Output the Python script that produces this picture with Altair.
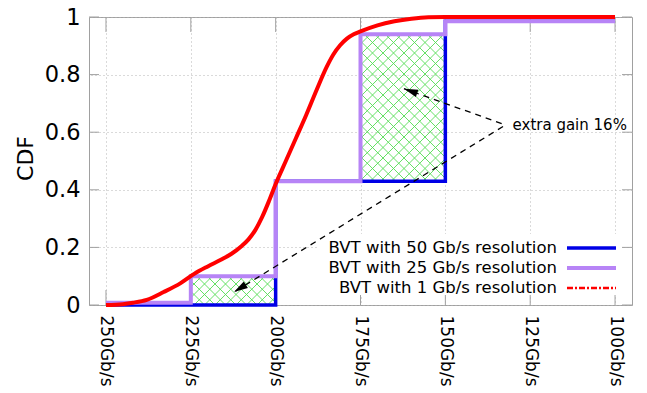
import math
import altair as alt
import pandas as pd

# ---------------- data ----------------
x_ticks = [250, 225, 200, 175, 150, 125, 100]
y_ticks = [0, 0.2, 0.4, 0.6, 0.8, 1.0]

series_names = ["BVT with 50 Gb/s resolution",
                "BVT with 25 Gb/s resolution",
                "BVT with 1 Gb/s resolution"]
series_colors = ["#0000e6", "#b784f6", "#ff0000"]

bvt50_edges = [250, 200, 150, 100]
bvt50_levels = [0.0, 0.43, 0.985]

bvt25_edges = [250, 225, 200, 175, 150, 100]
bvt25_levels = [0.008, 0.10, 0.43, 0.94, 0.985]

bvt1_rate = [250, 245, 242, 238, 233, 228, 224, 220, 216, 213, 210, 208, 206,
             204, 202, 200, 197, 194, 191, 188, 185, 183, 181, 179, 177, 175,
             170, 165, 160, 155, 150, 125, 100]
bvt1_cdf = [0.0, 0.003, 0.008, 0.018, 0.045, 0.076, 0.108, 0.134, 0.158, 0.178,
            0.205, 0.228, 0.26, 0.305, 0.36, 0.42, 0.50, 0.58, 0.66, 0.745,
            0.826, 0.87, 0.902, 0.925, 0.94, 0.95, 0.971, 0.985, 0.994, 0.999,
            1.0, 1.0, 1.0]

gain_x1 = [225, 175]
gain_x2 = [200, 150]
gain_y1 = [0.0, 0.43]
gain_y2 = [0.10, 0.94]

annot_text = ["extra gain 16%"]
annot_x = [130.2]
annot_y = [0.626]
arrow_start_x = [133.4, 133.0]
arrow_start_y = [0.630, 0.620]
arrow_tip_x = [162.2, 212.3]
arrow_tip_y = [0.751, 0.045]

# ---------------- layout ----------------
W, H = 543, 288
X_LEFT, X_RIGHT = 255, 95
SX = W / (X_LEFT - X_RIGHT)   # px per Gb/s
FONT = "DejaVu Sans"

xs = alt.Scale(domain=[X_RIGHT, X_LEFT], reverse=True, nice=False, zero=False)
ys = alt.Scale(domain=[0, 1], nice=False, zero=False)

x_axis = alt.Axis(values=x_ticks, labelExpr="datum.value + 'Gb/s'", labelAngle=90,
                  labelAlign="left", labelBaseline="middle", labelFontSize=17,
                  labelPadding=10, ticks=False, domain=False, grid=True,
                  gridDash=[1, 3], gridColor="#b4b4b4", gridWidth=1,
                  labelFlush=False, labelOverlap=False, labelColor="#000000",
                  labelFont=FONT, title="")
y_axis = alt.Axis(values=y_ticks, format="~g", labelFontSize=22.5, labelPadding=9,
                  ticks=False, domain=False, grid=True, gridDash=[1, 3],
                  gridColor="#b4b4b4", gridWidth=1, labelFlush=False,
                  labelOverlap=False, labelColor="#000000", labelFont=FONT,
                  title="CDF", titleFont=FONT, titleFontSize=22,
                  titleFontWeight="normal", titleColor="#000000",
                  titleX=-64, titleY=141, titleAngle=270, titleAlign="center",
                  titleBaseline="middle")


def X(field="x"):
    return alt.X(field + ":Q", scale=xs, axis=x_axis)


def Y(field="y"):
    return alt.Y(field + ":Q", scale=ys, axis=y_axis)


def step_vertices(edges, levels):
    pts = []
    for i, lv in enumerate(levels):
        pts.append((edges[i], lv))
        pts.append((edges[i + 1], lv))
    return pd.DataFrame({"x": [p[0] for p in pts], "y": [p[1] for p in pts],
                         "o": list(range(len(pts)))})


blue_df = step_vertices(bvt50_edges, bvt50_levels)
purple_df = step_vertices(bvt25_edges, bvt25_levels)
red_df = pd.DataFrame({"x": bvt1_rate, "y": bvt1_cdf})

# hatch segments (45 degree in pixel space), derived from gain regions
D = 10.5
segs = []
for xa_d, xb_d, ya_d, yb_d in zip(gain_x1, gain_x2, gain_y1, gain_y2):
    ua, ub = (X_LEFT - xa_d) * SX, (X_LEFT - xb_d) * SX
    va, vb = ya_d * H, yb_d * H
    k0 = math.floor((ua - vb) / D)
    k1 = math.ceil((ub - va) / D)
    for k in range(k0, k1 + 1):
        c = k * D
        lo, hi = max(ua, va + c), min(ub, vb + c)
        if hi - lo > 0.3:
            segs.append((lo, lo - c, hi, hi - c))
    k0 = math.floor((ua + va) / D)
    k1 = math.ceil((ub + vb) / D)
    for k in range(k0, k1 + 1):
        c = k * D
        lo, hi = max(ua, c - vb), min(ub, c - va)
        if hi - lo > 0.3:
            segs.append((lo, c - lo, hi, c - hi))
hatch_df = pd.DataFrame({
    "x": [X_LEFT - s[0] / SX for s in segs],
    "y": [s[1] / H for s in segs],
    "x2": [X_LEFT - s[2] / SX for s in segs],
    "y2": [s[3] / H for s in segs],
})

# inward tick marks
TX = 15.0 / H
TY = 10.0 / SX
tick_rows = []
for t in x_ticks:
    tick_rows.append((t, t, 0.0, TX))
    tick_rows.append((t, t, 1.0, 1.0 - TX))
for t in y_ticks:
    tick_rows.append((X_LEFT, X_LEFT - TY, t, t))
    tick_rows.append((X_RIGHT, X_RIGHT + TY, t, t))
ticks_df = pd.DataFrame(tick_rows, columns=["x", "x2", "y", "y2"])

# arrows
arrow_df = pd.DataFrame({"x": arrow_start_x, "y": arrow_start_y,
                         "x2": arrow_tip_x, "y2": arrow_tip_y})
angles = []
for sx_, sy_, tx_, ty_ in zip(arrow_start_x, arrow_start_y, arrow_tip_x, arrow_tip_y):
    du = (X_LEFT - tx_) * SX - (X_LEFT - sx_) * SX
    dv = (1 - ty_) * H - (1 - sy_) * H
    angles.append(math.degrees(math.atan2(du, -dv)) % 360)
head_df = pd.DataFrame({"x": arrow_tip_x, "y": arrow_tip_y, "a": angles})

text_df = pd.DataFrame({"x": annot_x, "y": annot_y, "t": annot_text})
legend_df = pd.DataFrame({"label": series_names, "color": series_colors,
                          "row": [0, 1, 2]})

# ---------------- layers ----------------
ticks_layer = alt.Chart(ticks_df).mark_rule(color="#a0a0a0", strokeWidth=1, clip=False).encode(
    x=X(), x2="x2:Q", y=Y(), y2="y2:Q")

legend_bg = alt.Chart(legend_df).transform_filter(alt.datum.row == 0).mark_rect(
    color="white", clip=False).encode(
    x=alt.value(228), x2=alt.value(533), y=alt.value(217), y2=alt.value(278))

hatch_layer = alt.Chart(hatch_df).mark_rule(color="#55dd55", strokeWidth=0.9, clip=False).encode(
    x=X(), x2="x2:Q", y=Y(), y2="y2:Q")

blue_layer = alt.Chart(blue_df).mark_line(color=series_colors[0], strokeWidth=3.5,
                                          clip=False, strokeJoin="miter").encode(
    x=X(), y=Y(), order="o:Q")
purple_layer = alt.Chart(purple_df).mark_line(color=series_colors[1], strokeWidth=4,
                                              clip=False, strokeJoin="miter").encode(
    x=X(), y=Y(), order="o:Q")
red_layer = alt.Chart(red_df).mark_line(color=series_colors[2], strokeWidth=4,
                                        clip=False, interpolate="monotone").encode(
    x=X(), y=Y())

arrow_layer = alt.Chart(arrow_df).mark_rule(color="black", strokeWidth=1.3,
                                            strokeDash=[6, 5], clip=False).encode(
    x=X(), x2="x2:Q", y=Y(), y2="y2:Q")
head_layer = alt.Chart(head_df).mark_point(
    shape="M0,0L0.55,2L-0.55,2Z", filled=True, color="black", opacity=1,
    size=196, clip=False).encode(
    x=X(), y=Y(), angle=alt.Angle("a:Q", scale=None))

text_layer = alt.Chart(text_df).mark_text(align="left", baseline="middle", font=FONT,
                                          fontSize=15, color="black").encode(
    x=X(), y=Y(), text="t:N")

legend_layers = []
dashes = [None, None, [6, 2, 2, 2]]
widths = [3.5, 4, 2.5]
for i in range(3):
    base = alt.Chart(legend_df).transform_filter(alt.datum.row == i)
    legend_layers.append(base.mark_text(align="right", baseline="middle", font=FONT,
                                        fontSize=16.5, color="black").encode(
        x=alt.value(468), y=alt.value(231 + 20 * i), text="label:N"))
    rule_kwargs = dict(color=series_colors[i], strokeWidth=widths[i])
    if dashes[i] is not None:
        rule_kwargs["strokeDash"] = dashes[i]
    legend_layers.append(base.mark_rule(**rule_kwargs).encode(
        x=alt.value(478), x2=alt.value(527), y=alt.value(231 + 20 * i)))

chart = alt.layer(
    ticks_layer, legend_bg, hatch_layer, blue_layer, purple_layer, red_layer,
    arrow_layer, head_layer, text_layer, *legend_layers
).properties(
    width=W, height=H,
    padding={"left": 89, "top": 17, "right": 15, "bottom": 88},
    autosize=alt.AutoSizeParams(type="none"),
    background="white",
).configure_view(stroke="#a0a0a0", strokeWidth=1)

chart.save("out.html", embed_options={"renderer": "svg", "actions": False})
